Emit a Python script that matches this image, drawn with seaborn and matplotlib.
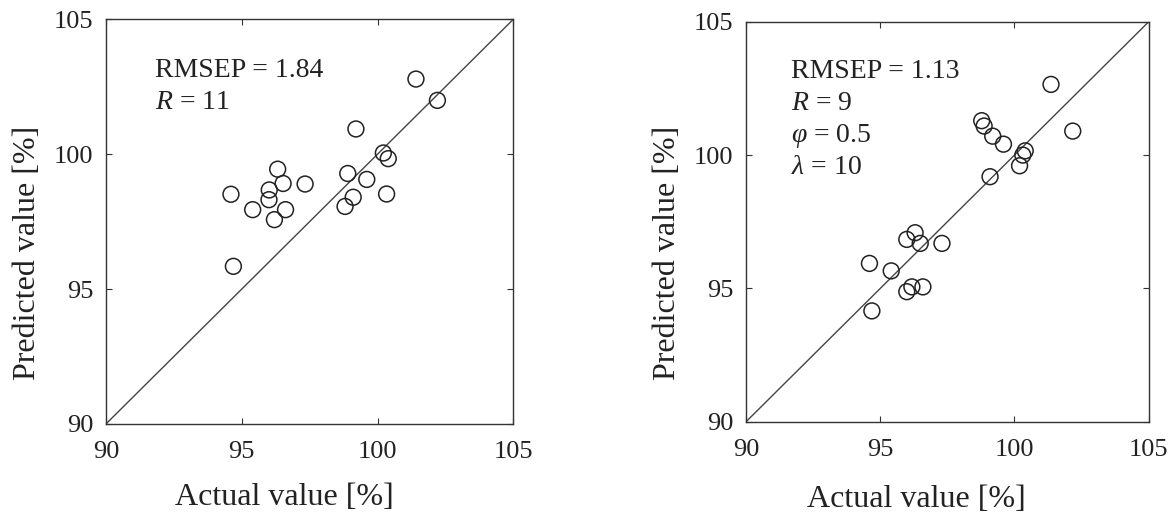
import numpy as np
import pandas as pd
import seaborn as sns
import matplotlib.pyplot as plt

# (actual vs predicted, %)
actual_a = [101.41, 102.20, 99.20, 100.21, 100.39, 96.32, 96.52, 97.33, 96.01, 96.00,
            94.60, 95.40, 96.61, 96.20, 98.90, 99.60, 99.10, 98.80, 100.33, 94.69]
predicted_a = [102.78, 101.99, 100.93, 100.04, 99.83, 99.44, 98.91, 98.89, 98.67, 98.31,
               98.51, 97.94, 97.94, 97.57, 99.28, 99.06, 98.40, 98.06, 98.52, 95.84]

actual_b = [101.36, 102.17, 98.78, 98.87, 99.19, 99.59, 100.40, 100.31, 100.19, 99.09,
            96.30, 95.99, 96.49, 97.30, 94.60, 95.41, 95.99, 96.18, 96.59, 94.69]
predicted_b = [102.65, 100.90, 101.29, 101.09, 100.71, 100.41, 100.16, 100.00, 99.60, 99.19,
               97.09, 96.84, 96.69, 96.69, 95.94, 95.66, 94.88, 95.06, 95.06, 94.16]

axis_limits = [90, 105]
tick_values = [90, 95, 100, 105]

notes_a = ["RMSEP = 1.84", r"$R$ = 11"]
notes_b = ["RMSEP = 1.13", r"$R$ = 9", r"$\varphi$ = 0.5", r"$\lambda$ = 10"]

sns.set_style("ticks")
plt.rcParams['font.family'] = ['Liberation Serif', 'DejaVu Serif']
plt.rcParams['mathtext.fontset'] = 'custom'
plt.rcParams['mathtext.rm'] = 'Liberation Serif'
plt.rcParams['mathtext.it'] = 'Liberation Serif:italic'

text_col = '#222222'

fig = plt.figure(figsize=(11.71, 5.17), dpi=100)
ax1 = fig.add_axes([0.0905, 0.180, 0.348, 0.783])
ax2 = fig.add_axes([0.637, 0.184, 0.344, 0.774])


def panel(ax, x, y, notes, note_x, note_y, xlab_pos, ylab_pos):
    df = pd.DataFrame({'actual': x, 'predicted': y})
    # identity line
    sns.lineplot(x=axis_limits, y=axis_limits, ax=ax, color='#444444', linewidth=1.0)
    sns.scatterplot(data=df, x='actual', y='predicted', ax=ax, s=130, marker='o',
                    facecolor='none', edgecolor='#222222', linewidth=1.1, zorder=3)
    ax.set_xlim(axis_limits)
    ax.set_ylim(axis_limits)
    ax.set_xticks(tick_values)
    ax.set_yticks(tick_values)
    ax.tick_params(direction='in', top=True, right=True, length=4, width=0.8,
                   labelsize=19, labelcolor=text_col, color='#333333')
    ax.tick_params(axis='x', pad=12)
    ax.tick_params(axis='y', pad=9)
    for sp in ax.spines.values():
        sp.set_color('#333333')
        sp.set_linewidth(1.0)
    ax.set_xlabel('Actual value [%]', fontsize=23, color=text_col)
    ax.set_ylabel('Predicted value [%]', fontsize=23, color=text_col)
    ax.xaxis.set_label_coords(*xlab_pos)
    ax.yaxis.set_label_coords(*ylab_pos)
    for i, t in enumerate(notes):
        ax.text(note_x, note_y - 1.19 * i, t, fontsize=20, color=text_col,
                ha='left', va='baseline')


panel(ax1, actual_a, predicted_a, notes_a, 91.8, 102.86, (0.439, -0.146), (-0.157, 0.422))
panel(ax2, actual_b, predicted_b, notes_b, 91.68, 102.88, (0.424, -0.158), (-0.159, 0.4225))

plt.savefig('out.png', dpi=100)
